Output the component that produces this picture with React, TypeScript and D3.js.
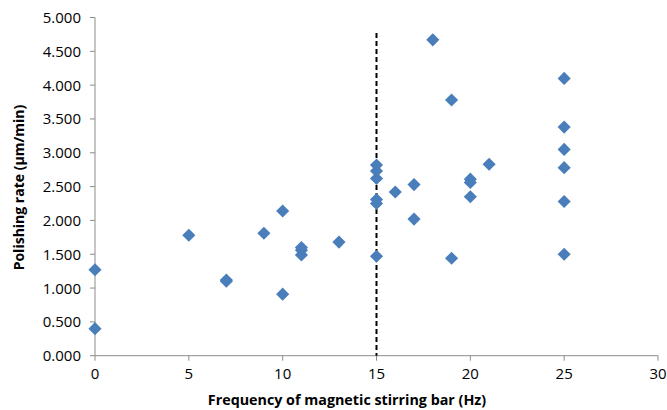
import React from "react";
import * as d3 from "d3";

// stirring frequency (Hz) and measured polishing rate (µm/min)
const freq = [0, 0, 5, 7, 7, 9, 10, 10, 11, 11, 11, 13, 15, 15, 15, 15, 15, 15, 16, 17, 17, 18, 19, 19, 20, 20, 20, 21, 25, 25, 25, 25, 25, 25];
const rate = [1.27, 0.4, 1.78, 1.1, 1.12, 1.81, 2.14, 0.91, 1.6, 1.56, 1.49, 1.68, 2.82, 2.73, 2.62, 2.31, 2.25, 1.47, 2.42, 2.53, 2.02, 4.67, 3.78, 1.44, 2.61, 2.56, 2.35, 2.83, 4.1, 3.38, 3.05, 2.78, 2.28, 1.5];
const xTicks = [0, 5, 10, 15, 20, 25, 30];
const yTicks = [0, 0.5, 1, 1.5, 2, 2.5, 3, 3.5, 4, 4.5, 5];
const markerLine = { x: 15, top: 4.77 };

const W = 667, H = 410;
const margin = { left: 95, right: 9, top: 17.5, bottom: 54.3 };
const font = "'Open Sans', 'Liberation Sans', sans-serif";
const axisColor = "#8c8c8c";
const pointColor = "#4a7ebb";

export default function App() {
  const x = d3.scaleLinear().domain([0, 30]).range([margin.left, W - margin.right]);
  const y = d3.scaleLinear().domain([0, 5]).range([H - margin.bottom, margin.top]);
  const diamond = d3.symbol().type(d3.symbolDiamond2).size(110)();
  const fmt = d3.format(".3f");

  return (
    <svg width={W} height={H} style={{ position: "absolute", left: 0, top: 0 }}>
      <rect width={W} height={H} fill="#fff" />
      {/* y axis */}
      <line x1={x(0)} x2={x(0)} y1={y(5)} y2={y(0)} stroke={axisColor} />
      {yTicks.map((t) => (
        <g key={"y" + t}>
          <line x1={x(0) - 5} x2={x(0)} y1={y(t)} y2={y(t)} stroke={axisColor} />
          <text x={x(0) - 14} y={y(t) + 5.5} textAnchor="end" fontFamily={font} fontSize={15} fill="#000">
            {fmt(t)}
          </text>
        </g>
      ))}
      {/* x axis */}
      <line x1={x(0)} x2={x(30)} y1={y(0)} y2={y(0)} stroke={axisColor} />
      {xTicks.map((t) => (
        <g key={"x" + t}>
          <line x1={x(t)} x2={x(t)} y1={y(0)} y2={y(0) + 5} stroke={axisColor} />
          <text x={x(t)} y={y(0) + 23.5} textAnchor="middle" fontFamily={font} fontSize={15} fill="#000">
            {t}
          </text>
        </g>
      ))}
      {/* dashed line at 15 Hz */}
      <line
        x1={x(markerLine.x)}
        x2={x(markerLine.x)}
        y1={y(markerLine.top)}
        y2={y(0)}
        stroke="#000"
        strokeWidth={2}
        strokeDasharray="5,3"
      />
      {freq.map((f, i) => (
        <path key={i} d={diamond} transform={`translate(${x(f)},${y(rate[i])})`} fill={pointColor} />
      ))}
      <text
        transform={`translate(24,${(y(0) + y(5)) / 2 + 1}) rotate(-90)`}
        textAnchor="middle"
        fontFamily={font}
        fontSize={14}
        fontWeight="bold"
        fill="#000"
      >
        Polishing rate (μm/min)
      </text>
      <text x={347} y={405} textAnchor="middle" fontFamily={font} fontSize={14.3} fontWeight="bold" fill="#000">
        Frequency of magnetic stirring bar (Hz)
      </text>
    </svg>
  );
}
